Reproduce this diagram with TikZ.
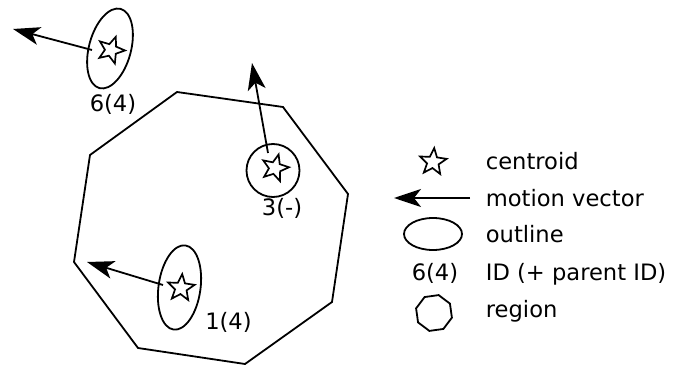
\documentclass[tikz,border=0pt]{standalone}
\usepackage{fontspec}
\setmainfont{DejaVu Sans}
\usetikzlibrary{shapes.geometric,arrows.meta}
\begin{document}
\begin{tikzpicture}[x=1pt,y=-1pt,line width=1.8pt,line join=miter,
  centroid/.style={star,star points=5,star point ratio=2.3,minimum size=28pt,
    inner sep=0pt,draw,fill=white,line width=1.7pt},
  outline/.style={ellipse,draw,inner sep=0pt},
  motion/.style={-{Stealth[length=27pt,width=18pt,inset=7pt]},line width=1.8pt},
  lbl/.style={font=\fontsize{22.6}{27}\selectfont,inner sep=0pt,anchor=base},
  legtext/.style={lbl,anchor=base west}]
\useasboundingbox (0,0) rectangle (683,366);

% region polygon
\draw (177,92) -- (283,107) -- (348,194) -- (332,302) -- (245,364)
  -- (138,348) -- (74,262) -- (90,155) -- cycle;

% object 6(4)
\node[outline,minimum width=42pt,minimum height=82pt,rotate=-15] (o6) at (110,48.5) {};
\coordinate (m6a) at (92,50);
\coordinate (m6b) at (13,29);
\draw[motion] (m6a) -- (m6b);
\node[centroid,rotate=-20] (s6) at (111,50) {};
\node[lbl] (l6) at (113,112) {6(4)};

% object 3(-)
\node[outline,minimum width=53pt,minimum height=53pt] (o3) at (273,170.5) {};
\coordinate (m3a) at (268,153);
\coordinate (m3b) at (252,63);
\draw[motion] (m3a) -- (m3b);
\node[centroid,rotate=-15] (s3) at (275,168) {};
\node[lbl] (l3) at (282,216) {3(-)};

% object 1(4)
\node[outline,minimum width=42pt,minimum height=85pt,rotate=-8] (o1) at (179.5,287.5) {};
\coordinate (m1a) at (163,285);
\coordinate (m1b) at (87,262);
\draw[motion] (m1a) -- (m1b);
\node[centroid,rotate=-5] (s1) at (181,288) {};
\node[lbl] (l1) at (228.5,329) {1(4)};

% legend
\node[centroid,rotate=-5] (ks) at (433,162) {};
\node[legtext] (kt1) at (485,170) {centroid};
\coordinate (kma) at (470,198);
\coordinate (kmb) at (394,198);
\draw[motion] (kma) -- (kmb);
\node[legtext] (kt2) at (485,206.5) {motion vector};
\node[outline,minimum width=58pt,minimum height=32pt] (ko) at (433,234) {};
\node[legtext] (kt3) at (485,243) {outline};
\node[lbl] (kl) at (435,280) {6(4)};
\node[legtext] (kt4) at (485,280) {ID (+ parent ID)};
\node[regular polygon,regular polygon sides=8,minimum size=37pt,inner sep=0pt,draw,rotate=8] (kr) at (434,313) {};
\node[legtext] (kt5) at (485,317) {region};
\end{tikzpicture}
\end{document}
